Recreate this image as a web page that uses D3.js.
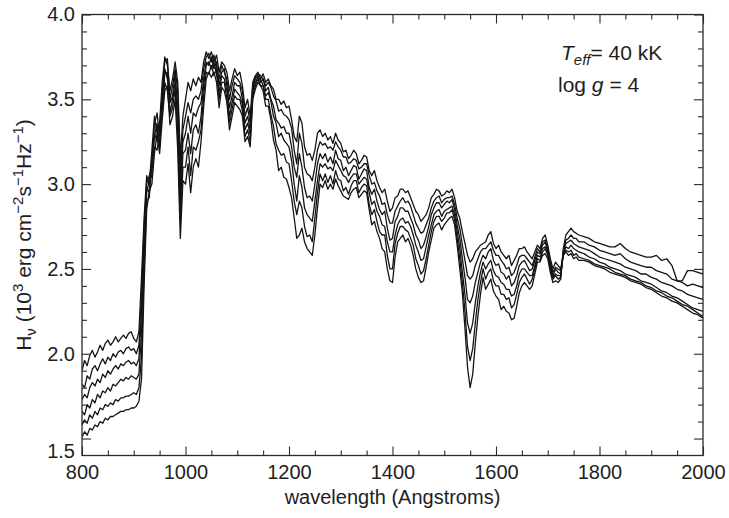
<!DOCTYPE html>
<html>
<head>
<meta charset="utf-8">
<script src="https://cdn.jsdelivr.net/npm/d3@7"></script>
<style>
  body { margin: 0; background: #fff; }
  text { font-family: "Liberation Sans", Arial, Helvetica, sans-serif; fill: #1e1e1e; }
</style>
</head>
<body>
<svg id="chart" width="729" height="518"></svg>
<script>
// Wavelength sampling grid (Angstroms): finer where the spectrum has sharp features.
const wavelength = [].concat(
  d3.range(800, 911, 5),    // Lyman continuum side
  d3.range(915, 1156, 5),   // dense far-UV forest
  d3.range(1160, 1521, 5),  // Fe V / Si IV region
  d3.range(1525, 1576, 5),  // C IV doublet
  d3.range(1580, 1761, 5),  // He II / Fe IV region
  d3.range(1770, 2001, 10)  // near-UV continuum
);

// Emergent Eddington flux H_nu (10^3 erg cm^-2 s^-1 Hz^-1), six metallicity models.
const fluxModel1 = [
  1.90,1.96,1.93,1.99,2.02,1.98,2.01,2.05,2.02,2.06,2.08,2.05,2.07,2.10,2.07,2.09,2.11,2.09,2.12,2.13,2.09,2.07,2.13,
  2.45,2.80,3.05,3.00,3.20,3.40,3.30,3.36,3.60,3.75, 3.70,3.55,3.62,3.72,3.60,3.15,3.40,3.50,3.60,3.55,
  3.62,3.58,3.63,3.60,3.72,3.78,3.74,3.78,3.72,3.76, 3.66,3.72,3.70,3.66,3.55,3.62,3.68,3.64,3.66,3.58,
  3.45,3.50,3.40,3.60,3.64,3.66,3.62,3.65,3.60,
  3.62,3.58,3.56,3.50,3.50,3.47,3.49,3.45,3.46,3.38, 3.28,3.25,3.40,3.36,3.22,3.17,3.18,3.14,3.20,3.30,
  3.32,3.28,3.30,3.26,3.28,3.24,3.30,3.26,3.24,3.19, 3.20,3.15,3.17,3.20,3.18,3.12,3.14,3.17,3.16,3.08,
  3.05,3.08,3.02,2.98,2.95,2.97,2.90,2.84,2.86,2.92, 2.93,2.97,2.97,2.95,2.96,2.92,2.88,2.84,2.82,2.78,
  2.80,2.82,2.86,2.92,2.94,2.97,2.96,2.93,2.94,2.96, 2.95,2.97,2.92,
  2.84,2.80,2.72,2.65,2.58,2.54,2.56,2.60,2.62,2.64,2.65,
  2.66,2.70,2.72,2.65,2.62,2.64,2.60,2.58,2.56,2.58, 2.52,2.55,2.58,2.62,2.62,2.63,2.60,2.58,2.56,2.60,
  2.64,2.62,2.68,2.70,2.64,2.56,2.50,2.54,2.52,2.50, 2.58,2.60,2.58,2.59,2.56,2.57,2.55,
  2.55,2.54,2.52,2.51,2.50,2.48,2.47,2.46,2.45,2.43,2.42,2.41,2.39,2.38,2.36,2.34,2.33,2.31,2.30,2.28,2.26,2.24,2.23,2.21
];
const fluxModel2 = [
  1.82,1.80,1.87,1.85,1.91,1.93,1.90,1.94,1.97,1.94,1.98,1.96,2.00,1.98,2.01,2.02,2.00,2.03,2.04,2.02,2.03,2.00,2.05,
  2.35,2.75,3.00,3.05,3.10,3.35,3.42,3.28,3.55,3.72, 3.74,3.50,3.58,3.68,3.55,3.05,3.32,3.40,3.48,3.42,
  3.50,3.52,3.50,3.55,3.68,3.75,3.77,3.72,3.76,3.70, 3.62,3.70,3.66,3.62,3.50,3.58,3.64,3.62,3.60,3.55,
  3.40,3.45,3.36,3.58,3.63,3.65,3.64,3.62,3.58,
  3.60,3.57,3.52,3.49,3.43,3.44,3.41,3.40,3.38,3.33, 3.20,3.12,3.30,3.24,3.10,3.06,3.05,3.02,3.10,3.20,
  3.25,3.23,3.24,3.21,3.22,3.20,3.25,3.22,3.20,3.16, 3.16,3.12,3.13,3.15,3.14,3.09,3.10,3.12,3.12,3.05,
  3.00,3.01,2.96,2.93,2.88,2.89,2.82,2.77,2.77,2.84, 2.87,2.90,2.92,2.89,2.90,2.87,2.82,2.77,2.74,2.71,
  2.72,2.76,2.80,2.86,2.90,2.92,2.93,2.89,2.91,2.92, 2.92,2.93,2.88,
  2.80,2.74,2.64,2.55,2.46,2.44,2.46,2.52,2.56,2.60,2.62,
  2.62,2.64,2.66,2.61,2.58,2.58,2.55,2.53,2.50,2.51, 2.46,2.48,2.52,2.57,2.58,2.58,2.56,2.54,2.52,2.57,
  2.62,2.60,2.66,2.67,2.62,2.54,2.48,2.51,2.50,2.49, 2.58,2.61,2.60,2.61,2.58,2.59,2.57,
  2.56,2.55,2.53,2.52,2.51,2.50,2.48,2.47,2.46,2.44,2.43,2.42,2.40,2.39,2.37,2.36,2.34,2.33,2.31,2.29,2.28,2.26,2.24,2.22
];
const fluxModel3 = [
  1.73,1.76,1.74,1.80,1.83,1.81,1.85,1.83,1.88,1.86,1.90,1.88,1.91,1.93,1.91,1.94,1.93,1.95,1.96,1.94,1.95,1.93,1.97,
  2.25,2.68,2.98,2.95,3.15,3.30,3.25,3.35,3.50,3.68, 3.62,3.48,3.52,3.65,3.45,2.95,3.25,3.30,3.40,3.30,
  3.42,3.40,3.45,3.48,3.62,3.72,3.70,3.75,3.68,3.72, 3.58,3.66,3.68,3.58,3.45,3.52,3.60,3.58,3.58,3.50,
  3.36,3.40,3.32,3.56,3.62,3.64,3.60,3.62,3.55,
  3.57,3.50,3.46,3.38,3.36,3.33,3.34,3.30,3.30,3.22, 3.10,3.04,3.18,3.10,2.98,2.92,2.93,2.90,3.00,3.12,
  3.18,3.15,3.18,3.13,3.16,3.12,3.20,3.15,3.14,3.08, 3.10,3.05,3.08,3.11,3.10,3.03,3.06,3.09,3.08,2.98,
  2.94,2.97,2.90,2.85,2.82,2.84,2.74,2.67,2.68,2.78, 2.81,2.86,2.86,2.84,2.84,2.80,2.76,2.70,2.67,2.62,
  2.64,2.69,2.75,2.82,2.86,2.89,2.89,2.86,2.88,2.90, 2.89,2.91,2.85,
  2.76,2.68,2.56,2.45,2.32,2.30,2.34,2.42,2.48,2.54,2.58,
  2.56,2.60,2.62,2.55,2.52,2.53,2.48,2.47,2.44,2.46, 2.40,2.42,2.46,2.52,2.54,2.55,2.52,2.49,2.50,2.55,
  2.60,2.59,2.64,2.66,2.60,2.52,2.46,2.50,2.48,2.47, 2.58,2.63,2.62,2.64,2.62,2.61,2.60,
  2.59,2.57,2.56,2.54,2.53,2.51,2.50,2.49,2.47,2.46,2.45,2.43,2.42,2.41,2.39,2.37,2.36,2.34,2.33,2.31,2.29,2.27,2.26,2.25
];
const fluxModel4 = [
  1.66,1.64,1.70,1.68,1.73,1.71,1.76,1.74,1.78,1.77,1.80,1.78,1.82,1.81,1.83,1.85,1.84,1.86,1.85,1.87,1.86,1.85,1.88,
  2.12,2.60,2.95,3.02,3.05,3.28,3.36,3.22,3.45,3.65, 3.66,3.42,3.50,3.60,3.38,2.86,3.18,3.20,3.30,3.18,
  3.32,3.35,3.30,3.40,3.58,3.70,3.72,3.68,3.72,3.65, 3.54,3.64,3.62,3.55,3.40,3.48,3.56,3.54,3.52,3.47,
  3.32,3.36,3.29,3.54,3.60,3.63,3.62,3.58,3.52,
  3.54,3.49,3.40,3.36,3.28,3.30,3.26,3.24,3.22,3.14, 3.00,2.90,3.05,2.98,2.86,2.82,2.80,2.78,2.90,3.02,
  3.12,3.10,3.12,3.09,3.10,3.08,3.14,3.11,3.08,3.05, 3.04,3.01,3.04,3.06,3.06,3.00,3.02,3.04,3.03,2.95,
  2.88,2.90,2.84,2.81,2.76,2.75,2.66,2.60,2.60,2.70, 2.76,2.79,2.80,2.77,2.78,2.75,2.70,2.64,2.60,2.55,
  2.56,2.63,2.70,2.76,2.82,2.84,2.85,2.81,2.84,2.85, 2.86,2.87,2.82,
  2.72,2.62,2.48,2.35,2.18,2.12,2.18,2.30,2.40,2.48,2.54,
  2.50,2.53,2.55,2.49,2.46,2.45,2.42,2.41,2.38,2.38, 2.34,2.35,2.40,2.47,2.50,2.50,2.48,2.46,2.46,2.52,
  2.58,2.57,2.62,2.63,2.59,2.51,2.45,2.47,2.46,2.46, 2.60,2.65,2.66,2.67,2.65,2.64,2.63,
  2.62,2.61,2.59,2.57,2.56,2.55,2.54,2.53,2.51,2.50,2.49,2.47,2.47,2.45,2.44,2.42,2.41,2.40,2.38,2.37,2.35,2.34,2.33,2.32
];
const fluxModel5 = [
  1.58,1.61,1.59,1.64,1.62,1.66,1.64,1.68,1.67,1.70,1.69,1.71,1.70,1.73,1.72,1.74,1.74,1.75,1.75,1.76,1.77,1.76,1.80,
  1.98,2.50,2.90,2.92,3.12,3.22,3.20,3.30,3.42,3.60, 3.55,3.40,3.45,3.56,3.30,2.77,3.10,3.10,3.22,3.05,
  3.22,3.20,3.25,3.32,3.52,3.66,3.65,3.70,3.64,3.68, 3.50,3.60,3.60,3.50,3.36,3.44,3.52,3.50,3.50,3.43,
  3.28,3.32,3.25,3.52,3.58,3.62,3.58,3.58,3.50,
  3.50,3.41,3.34,3.24,3.20,3.17,3.18,3.13,3.12,3.02, 2.90,2.82,2.90,2.86,2.75,2.69,2.70,2.66,2.80,2.95,
  3.06,3.02,3.06,3.01,3.05,3.00,3.08,3.03,3.02,2.96, 2.98,2.94,2.99,3.02,3.02,2.95,2.98,3.00,2.99,2.88,
  2.82,2.85,2.78,2.72,2.70,2.70,2.58,2.50,2.50,2.65, 2.71,2.75,2.75,2.73,2.72,2.68,2.64,2.56,2.52,2.47,
  2.49,2.56,2.64,2.72,2.78,2.81,2.81,2.78,2.80,2.83, 2.83,2.85,2.79,
  2.68,2.56,2.42,2.25,2.04,1.96,2.03,2.18,2.32,2.42,2.50,
  2.44,2.48,2.50,2.43,2.40,2.40,2.35,2.35,2.32,2.33, 2.27,2.29,2.35,2.42,2.45,2.47,2.44,2.41,2.44,2.50,
  2.56,2.55,2.60,2.62,2.58,2.50,2.44,2.46,2.44,2.45, 2.60,2.67,2.68,2.70,2.68,2.68,2.66,
  2.66,2.64,2.63,2.61,2.60,2.59,2.58,2.59,2.56,2.54,2.53,2.52,2.51,2.51,2.49,2.48,2.47,2.44,2.43,2.42,2.40,2.41,2.40,2.39
];
const fluxModel6 = [
  1.51,1.54,1.52,1.56,1.55,1.58,1.57,1.60,1.59,1.62,1.61,1.63,1.63,1.64,1.65,1.66,1.66,1.67,1.67,1.68,1.68,1.69,1.72,
  1.85,2.40,2.85,2.96,3.00,3.18,3.30,3.18,3.38,3.55, 3.58,3.35,3.40,3.50,3.20,2.68,3.02,3.00,3.12,2.95,
  3.10,3.15,3.10,3.25,3.45,3.62,3.66,3.63,3.66,3.60, 3.45,3.57,3.55,3.48,3.32,3.40,3.48,3.46,3.44,3.40,
  3.25,3.28,3.22,3.50,3.56,3.60,3.58,3.55,3.46,
  3.46,3.38,3.26,3.20,3.08,3.10,3.04,3.03,2.98,2.92, 2.80,2.68,2.70,2.74,2.66,2.62,2.60,2.58,2.70,2.86,
  3.00,2.98,3.02,2.97,3.00,2.97,3.03,2.99,2.96,2.93, 2.92,2.91,2.95,2.97,2.98,2.92,2.94,2.96,2.95,2.85,
  2.76,2.78,2.72,2.68,2.62,2.60,2.50,2.43,2.42,2.57, 2.66,2.68,2.70,2.66,2.68,2.64,2.58,2.50,2.45,2.42,
  2.43,2.51,2.60,2.67,2.74,2.76,2.77,2.73,2.76,2.78, 2.80,2.81,2.76,
  2.64,2.50,2.36,2.15,1.92,1.80,1.88,2.06,2.22,2.35,2.45,
  2.38,2.41,2.44,2.37,2.34,2.32,2.26,2.28,2.25,2.24, 2.20,2.21,2.28,2.36,2.40,2.42,2.40,2.38,2.40,2.47,
  2.54,2.54,2.58,2.59,2.56,2.48,2.42,2.43,2.42,2.44, 2.62,2.70,2.72,2.74,2.72,2.71,2.70,
  2.69,2.68,2.66,2.65,2.64,2.63,2.63,2.65,2.62,2.60,2.59,2.58,2.57,2.57,2.58,2.55,2.56,2.52,2.43,2.43,2.49,2.49,2.48,2.47
];
const models = [fluxModel1, fluxModel2, fluxModel3, fluxModel4, fluxModel5, fluxModel6];

// Axis ticks
const xMajorTicks = [800, 1000, 1200, 1400, 1600, 1800, 2000];
const xMinorTicks = d3.range(850, 2000, 50).filter(v => v % 200 !== 0);
const yMajorTicks = [1.5, 2.0, 2.5, 3.0, 3.5, 4.0];
const yMinorTicks = [1.6,1.7,1.8,1.9,2.1,2.2,2.3,2.4,2.6,2.7,2.8,2.9,3.1,3.2,3.3,3.4,3.6,3.7,3.8,3.9];

(function drawChart() {
  const svg = d3.select("#chart");
  const plotLeft = 82, plotRight = 703, plotTop = 14.5, plotBottom = 455.5;

  const x = d3.scaleLinear().domain([800, 2000]).range([plotLeft, plotRight]);
  const y = d3.scaleLinear().domain([1.4, 4.0]).range([plotBottom, plotTop]);

  svg.append("defs").append("clipPath").attr("id", "plotClip")
    .append("rect").attr("x", plotLeft).attr("y", plotTop)
    .attr("width", plotRight - plotLeft).attr("height", plotBottom - plotTop);

  // Spectra
  const line = d3.line().x(d => x(d.w)).y(d => y(d.v));
  svg.append("g").attr("clip-path", "url(#plotClip)")
    .selectAll("path").data(models).join("path")
    .attr("d", m => line(wavelength.map((w, i) => ({ w, v: m[i] })).filter(d => d.v != null)))
    .attr("fill", "none")
    .attr("stroke", "#141414")
    .attr("stroke-width", 1.3)
    .attr("stroke-linejoin", "round");

  // Axes: inward ticks on all four sides
  const axisColor = "#2a2a2a";
  function styleAxis(g) {
    g.select(".domain").remove();
    g.selectAll(".tick line").attr("stroke", axisColor).attr("stroke-width", 1.1);
    g.selectAll(".tick text").attr("font-size", 20).style("fill", "#1e1e1e")
      .attr("font-family", "'Liberation Sans', Arial, Helvetica, sans-serif");
  }
  const noLabel = () => "";

  svg.append("g").attr("transform", `translate(0,${plotBottom})`)
    .call(d3.axisBottom(x).tickValues(xMajorTicks).tickSize(-9).tickPadding(9).tickFormat(d3.format("d")))
    .call(styleAxis);
  svg.append("g").attr("transform", `translate(0,${plotBottom})`)
    .call(d3.axisBottom(x).tickValues(xMinorTicks).tickSize(-5).tickFormat(noLabel)).call(styleAxis);
  svg.append("g").attr("transform", `translate(0,${plotTop})`)
    .call(d3.axisTop(x).tickValues(xMajorTicks).tickSize(-9).tickFormat(noLabel)).call(styleAxis);
  svg.append("g").attr("transform", `translate(0,${plotTop})`)
    .call(d3.axisTop(x).tickValues(xMinorTicks).tickSize(-5).tickFormat(noLabel)).call(styleAxis);

  const yAxisG = svg.append("g").attr("transform", `translate(${plotLeft},0)`)
    .call(d3.axisLeft(y).tickValues(yMajorTicks).tickSize(-9).tickPadding(7).tickFormat(d3.format(".1f")))
    .call(styleAxis);
  // the lowest label sits near the corner of the frame
  yAxisG.selectAll(".tick text").filter(d => d === 1.5)
    .attr("transform", `translate(0,${y(1.4) - y(1.5) - 4})`);
  svg.append("g").attr("transform", `translate(${plotLeft},0)`)
    .call(d3.axisLeft(y).tickValues(yMinorTicks).tickSize(-5).tickFormat(noLabel)).call(styleAxis);
  svg.append("g").attr("transform", `translate(${plotRight},0)`)
    .call(d3.axisRight(y).tickValues(yMajorTicks).tickSize(-9).tickFormat(noLabel)).call(styleAxis);
  svg.append("g").attr("transform", `translate(${plotRight},0)`)
    .call(d3.axisRight(y).tickValues(yMinorTicks).tickSize(-5).tickFormat(noLabel)).call(styleAxis);

  // Frame
  svg.append("rect").attr("x", plotLeft).attr("y", plotTop)
    .attr("width", plotRight - plotLeft).attr("height", plotBottom - plotTop)
    .attr("fill", "none").attr("stroke", axisColor).attr("stroke-width", 1.3);

  // Axis titles
  svg.append("text").attr("x", (plotLeft + plotRight) / 2).attr("y", 504)
    .attr("text-anchor", "middle").attr("font-size", 20)
    .text("wavelength (Angstroms)");

  const yTitle = svg.append("text")
    .attr("transform", `translate(31,${(plotTop + plotBottom) / 2}) rotate(-90)`)
    .attr("text-anchor", "middle").attr("font-size", 21);
  yTitle.append("tspan").text("H");
  yTitle.append("tspan").attr("font-size", 15).attr("dy", 5).text("ν");
  yTitle.append("tspan").attr("dy", -5).text(" (10");
  yTitle.append("tspan").attr("font-size", 15).attr("dy", -8).text("3");
  yTitle.append("tspan").attr("dy", 8).text(" erg cm");
  yTitle.append("tspan").attr("font-size", 15).attr("dy", -8).text("−2");
  yTitle.append("tspan").attr("dy", 8).text("s");
  yTitle.append("tspan").attr("font-size", 15).attr("dy", -8).text("−1");
  yTitle.append("tspan").attr("dy", 8).text("Hz");
  yTitle.append("tspan").attr("font-size", 15).attr("dy", -8).text("−1");
  yTitle.append("tspan").attr("dy", 8).text(")");

  // Model parameters
  const teff = svg.append("text").attr("x", 561).attr("y", 60).attr("font-size", 21);
  teff.append("tspan").attr("font-style", "italic").text("T");
  teff.append("tspan").attr("font-style", "italic").attr("font-size", 15).attr("dy", 5).text("eff");
  teff.append("tspan").attr("dy", -5).text("= 40 kK");

  const logg = svg.append("text").attr("x", 558).attr("y", 92).attr("font-size", 21);
  logg.append("tspan").text("log ");
  logg.append("tspan").attr("font-style", "italic").text("g");
  logg.append("tspan").text(" = 4");
})();
</script>
</body>
</html>
